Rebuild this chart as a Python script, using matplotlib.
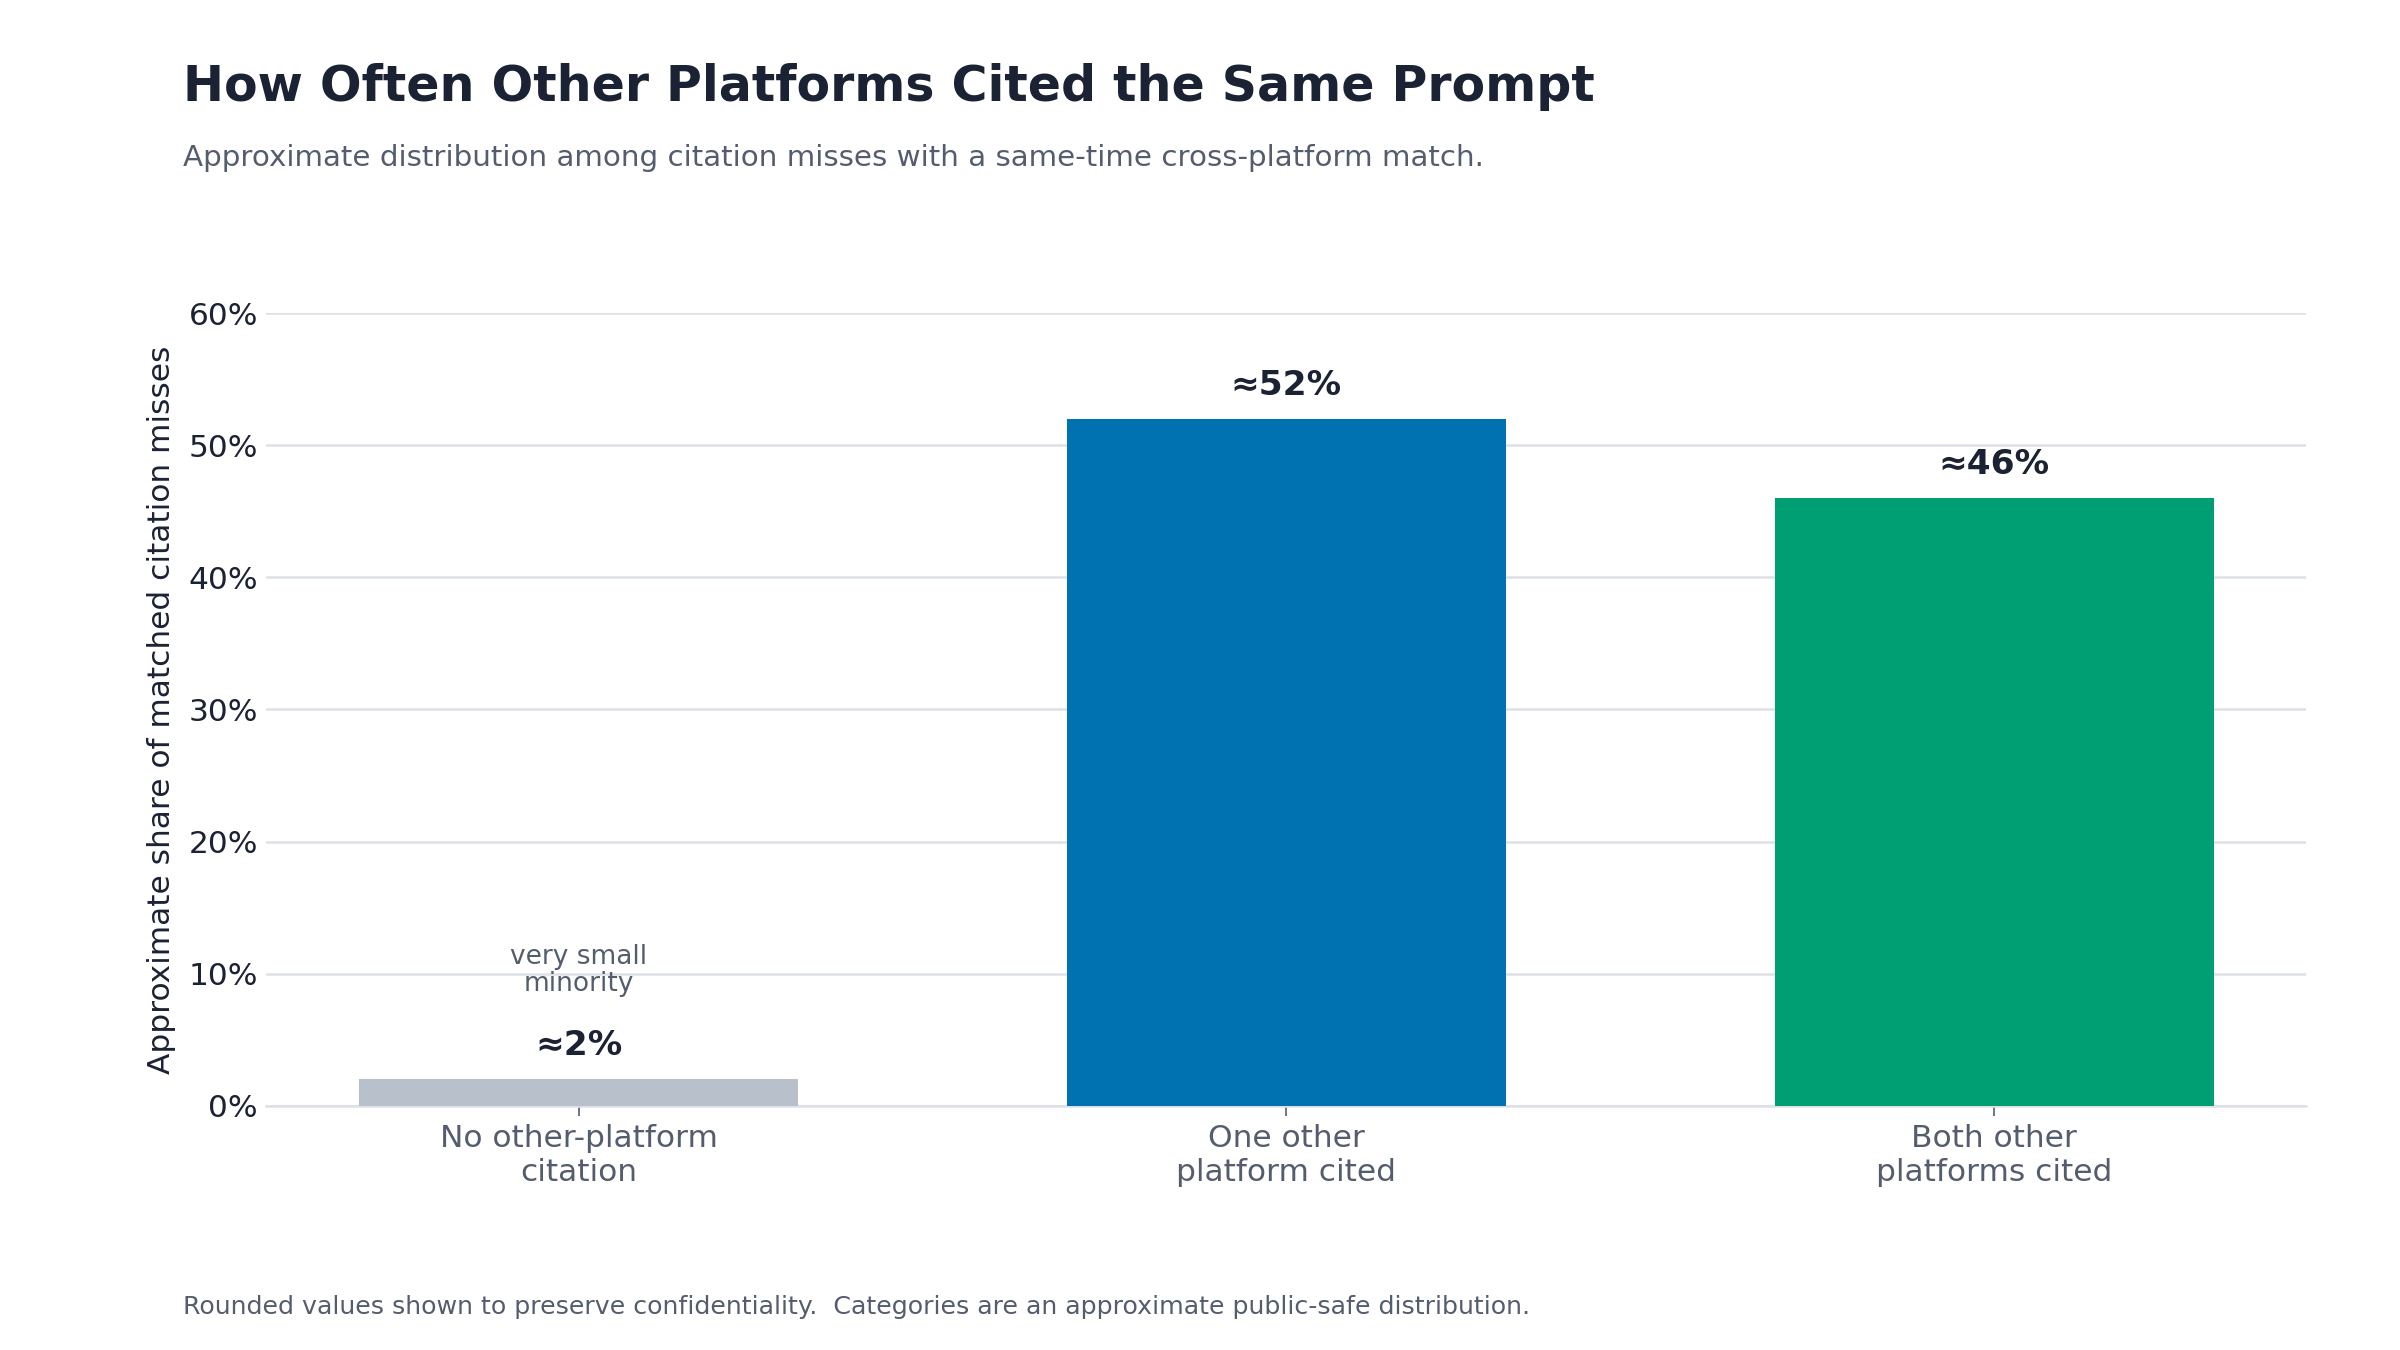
import matplotlib
matplotlib.use("Agg")
import matplotlib.pyplot as plt
from matplotlib.ticker import FuncFormatter

# data
categories = ["No other-platform\ncitation", "One other\nplatform cited", "Both other\nplatforms cited"]
shares = [2, 52, 46]
value_labels = ["≈2%", "≈52%", "≈46%"]
bar_colors = ["#b8c0cc", "#0072b2", "#009e73"]
y_ticks = [0, 10, 20, 30, 40, 50, 60]

DARK = "#1a2233"
GRAY = "#545d6e"
GRID = "#dde1e7"

plt.rcParams["font.family"] = ["DejaVu Sans"]

fig = plt.figure(figsize=(16, 9), dpi=150)
ax = fig.add_axes([0.111, 0.181, 0.850, 0.587])

x = range(len(categories))
ax.bar(x, shares, width=0.62, color=bar_colors, zorder=3)

for xi, v, lab in zip(x, shares, value_labels):
    ax.text(xi, v + 1.3, lab, ha="center", va="bottom", fontsize=16.5,
            fontweight="bold", color=DARK, zorder=4)

ax.text(0, 8.2, "very small\nminority", ha="center", va="bottom",
        fontsize=12.7, color=GRAY, linespacing=1.05)

ax.set_ylim(0, 60)
ax.set_yticks(y_ticks)
ax.yaxis.set_major_formatter(FuncFormatter(lambda v, p: f"{v:.0f}%"))
ax.set_xticks(list(x))
ax.set_xticklabels(categories, fontsize=15, color=GRAY, linespacing=1.2)
ax.tick_params(axis="y", length=0, labelsize=15, labelcolor=DARK, pad=4)
ax.tick_params(axis="x", length=5, color=GRAY, pad=4)
ax.grid(axis="y", color=GRID, linewidth=1.2, zorder=0)
for s in ["top", "right", "left"]:
    ax.spines[s].set_visible(False)
ax.spines["bottom"].set_color(GRID)
ax.spines["bottom"].set_linewidth(1.2)
ax.set_ylabel("Approximate share of matched citation misses", fontsize=15,
              color=DARK, labelpad=6)

fig.text(0.0761, 0.925, "How Often Other Platforms Cited the Same Prompt",
         fontsize=23.5, fontweight="bold", color=DARK, ha="left", va="baseline")
fig.text(0.0761, 0.877,
         "Approximate distribution among citation misses with a same-time cross-platform match.",
         fontsize=14.1, color=GRAY, ha="left", va="baseline")
fig.text(0.0761, 0.032,
         "Rounded values shown to preserve confidentiality.  Categories are an approximate public-safe distribution.",
         fontsize=12.1, color=GRAY, ha="left", va="center")

fig.savefig("out.png", dpi=150, facecolor="white")
